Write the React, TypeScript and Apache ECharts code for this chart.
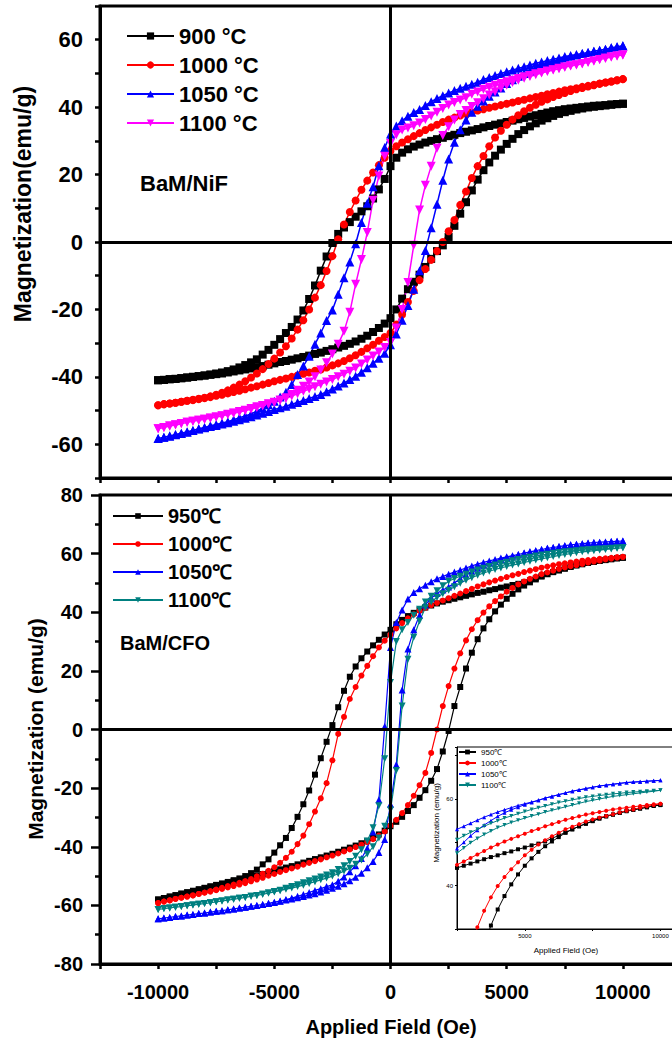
import React, { useEffect, useRef } from "react";
import * as echarts from "echarts";

const FONT = "'Liberation Sans', Arial, sans-serif";

// Applied field (Oe), shared by every branch
const field = [
  -10000, -9750, -9500, -9250, -9000, -8750, -8500, -8250, -8000,
  -7750, -7500, -7250, -7000, -6750, -6500, -6250, -6000, -5750,
  -5500, -5250, -5000, -4750, -4500, -4250, -4000, -3750, -3500,
  -3250, -3000, -2750, -2500, -2250, -2000, -1750, -1500, -1250,
  -1000, -750, -500, -250, 0, 250, 500, 750, 1000,
  1250, 1500, 1750, 2000, 2250, 2500, 2750, 3000, 3250,
  3500, 3750, 4000, 4250, 4500, 4750, 5000, 5250, 5500,
  5750, 6000, 6250, 6500, 6750, 7000, 7250, 7500, 7750,
  8000, 8250, 8500, 8750, 9000, 9250, 9500, 9750, 10000,
];

// ---- BaM/NiF (top) : ascending branch (Asc) and descending branch (Desc), both listed along field ----
const nif900Asc = [
  -41.0, -40.9, -40.7, -40.6, -40.4, -40.2, -40.0, -39.8, -39.6,
  -39.4, -39.2, -39.0, -38.7, -38.4, -38.1, -37.8, -37.5, -37.1,
  -36.8, -36.4, -36.0, -35.6, -35.3, -34.9, -34.5, -34.1, -33.7,
  -33.2, -32.8, -32.3, -31.8, -31.3, -30.8, -30.2, -29.5, -28.7,
  -27.8, -26.7, -25.5, -24.2, -22.6, -20.0, -16.8, -14.0, -11.8,
  -9.7, -7.4, -5.0, -2.7, -1.0, 1.5, 4.8, 8.4, 11.8,
  15.3, 18.5, 21.3, 23.6, 25.6, 27.4, 29.1, 30.6, 32.0,
  33.2, 34.3, 35.2, 36.0, 36.7, 37.4, 38.0, 38.5, 38.9,
  39.3, 39.6, 39.9, 40.1, 40.3, 40.5, 40.7, 40.9, 41.0,
];
const nif900Desc = [
  -41.0, -40.9, -40.7, -40.6, -40.4, -40.2, -40.0, -39.8, -39.6,
  -39.3, -39.0, -38.7, -38.3, -37.8, -37.2, -36.5, -35.7, -34.8,
  -33.4, -32.0, -30.5, -28.8, -27.0, -25.2, -23.0, -20.3, -16.9,
  -12.9, -8.5, -4.3, -0.3, 2.4, 4.3, 5.9, 7.5, 9.1,
  10.6, 12.9, 15.6, 18.7, 22.5, 25.0, 26.5, 27.5, 28.3,
  28.9, 29.5, 30.0, 30.5, 30.9, 31.4, 31.8, 32.3, 32.7,
  33.1, 33.5, 34.0, 34.4, 34.8, 35.2, 35.6, 36.0, 36.4,
  36.8, 37.2, 37.6, 38.0, 38.4, 38.8, 39.1, 39.4, 39.6,
  39.8, 40.0, 40.2, 40.4, 40.5, 40.6, 40.8, 40.9, 41.0,
];
const nif1000Asc = [
  -48.4, -48.1, -47.9, -47.7, -47.4, -47.1, -46.9, -46.6, -46.3,
  -46.0, -45.6, -45.3, -44.9, -44.5, -44.1, -43.7, -43.2, -42.8,
  -42.3, -41.8, -41.3, -40.9, -40.5, -40.0, -39.6, -39.1, -38.7,
  -38.2, -37.8, -37.2, -36.6, -36.0, -35.3, -34.5, -33.6, -32.6,
  -31.5, -30.5, -29.3, -28.2, -27.0, -24.5, -21.5, -17.8, -14.5,
  -11.3, -8.0, -5.3, -2.7, 0.0, 3.2, 6.5, 11.0, 15.0,
  19.0, 22.5, 25.5, 28.4, 31.0, 33.0, 34.8, 36.3, 37.6,
  38.8, 39.8, 40.7, 41.6, 42.3, 43.0, 43.6, 44.2, 44.8,
  45.3, 45.7, 46.1, 46.5, 46.9, 47.3, 47.6, 48.0, 48.3,
];
const nif1000Desc = [
  -48.4, -48.1, -47.9, -47.7, -47.4, -47.1, -46.8, -46.5, -46.2,
  -45.8, -45.3, -44.7, -44.0, -43.2, -42.3, -41.3, -40.2, -39.0,
  -37.7, -36.2, -34.6, -32.8, -30.9, -28.6, -26.0, -23.2, -20.0,
  -16.5, -12.8, -8.6, -4.2, 0.8, 5.2, 8.9, 12.3, 15.5,
  18.2, 20.6, 22.8, 25.0, 27.0, 28.4, 29.5, 30.5, 31.4,
  32.3, 33.2, 34.0, 34.8, 35.6, 36.3, 36.9, 37.5, 38.0,
  38.5, 39.0, 39.4, 39.8, 40.2, 40.6, 41.0, 41.4, 41.8,
  42.2, 42.6, 43.0, 43.4, 43.8, 44.2, 44.6, 45.0, 45.3,
  45.6, 46.0, 46.3, 46.6, 47.0, 47.3, 47.6, 48.0, 48.3,
];
const nif1050Asc = [
  -58.3, -57.9, -57.6, -57.2, -56.8, -56.4, -55.9, -55.5, -55.1,
  -54.7, -54.4, -54.0, -53.6, -53.2, -52.7, -52.3, -51.8, -51.3,
  -50.8, -50.3, -49.7, -49.2, -48.7, -48.1, -47.6, -47.0, -46.4,
  -45.8, -45.2, -44.4, -43.6, -42.7, -41.8, -40.8, -39.8, -38.6,
  -37.3, -36.0, -34.5, -33.0, -30.5, -27.3, -23.2, -18.8, -14.0,
  -8.5, -2.5, 4.2, 11.2, 18.3, 24.6, 29.6, 33.3, 36.2,
  38.5, 40.3, 41.8, 43.2, 44.5, 45.7, 47.0, 48.1, 49.2,
  50.0, 50.8, 51.6, 52.3, 52.9, 53.5, 54.1, 54.6, 55.1,
  55.5, 55.9, 56.2, 56.6, 56.9, 57.2, 57.6, 57.9, 58.2,
];
const nif1050Desc = [
  -58.3, -57.9, -57.5, -57.1, -56.7, -56.3, -55.9, -55.4, -55.0,
  -54.5, -54.1, -53.7, -53.3, -52.7, -52.1, -51.6, -51.0, -50.2,
  -49.3, -48.3, -47.2, -46.0, -44.6, -42.3, -39.3, -36.8, -33.9,
  -30.3, -27.0, -23.3, -20.2, -15.5, -10.6, -5.9, -0.5, 5.8,
  11.5, 16.4, 22.6, 28.0, 32.0, 34.4, 36.0, 37.3, 38.4,
  39.3, 40.5, 41.6, 42.6, 43.4, 44.2, 44.9, 45.6, 46.2,
  46.8, 47.4, 48.2, 48.8, 49.4, 50.0, 50.5, 51.0, 51.5,
  52.0, 52.5, 53.0, 53.4, 53.8, 54.2, 54.6, 55.0, 55.3,
  55.6, 55.9, 56.2, 56.6, 56.9, 57.2, 57.6, 57.9, 58.2,
];
const nif1100Asc = [
  -55.4, -55.0, -54.6, -54.2, -53.8, -53.5, -53.2, -52.9, -52.6,
  -52.3, -51.9, -51.6, -51.2, -50.8, -50.4, -50.0, -49.6, -49.1,
  -48.6, -48.1, -47.6, -47.0, -46.4, -45.7, -45.0, -44.3, -43.6,
  -42.9, -42.2, -41.5, -40.8, -40.0, -39.2, -38.3, -37.4, -36.2,
  -35.0, -33.8, -32.6, -31.3, -29.8, -25.5, -20.0, -12.0, -1.0,
  9.5, 16.8, 22.5, 27.8, 31.6, 34.2, 36.2, 37.8, 39.0,
  40.2, 41.3, 42.5, 43.6, 44.6, 45.6, 46.5, 47.3, 48.0,
  48.6, 49.1, 49.6, 50.1, 50.6, 51.0, 51.4, 51.8, 52.2,
  52.5, 52.9, 53.3, 53.7, 54.1, 54.5, 54.9, 55.2, 55.5,
];
const nif1100Desc = [
  -55.4, -55.0, -54.6, -54.3, -53.9, -53.5, -53.2, -52.9, -52.6,
  -52.2, -51.9, -51.5, -51.1, -50.7, -50.3, -49.9, -49.4, -48.9,
  -48.5, -48.0, -47.5, -46.9, -46.2, -45.2, -44.0, -42.8, -41.5,
  -40.0, -38.0, -35.8, -33.2, -30.3, -26.5, -20.8, -12.5, -5.2,
  2.8, 12.4, 19.6, 25.4, 29.2, 31.8, 33.2, 33.8, 34.5,
  35.3, 36.3, 37.4, 38.5, 39.6, 40.6, 41.4, 42.1, 42.8,
  43.8, 44.5, 45.3, 45.9, 46.5, 47.0, 47.5, 48.0, 48.5,
  49.0, 49.4, 49.9, 50.3, 50.7, 51.1, 51.5, 51.9, 52.3,
  52.6, 52.9, 53.3, 53.7, 54.1, 54.5, 54.9, 55.2, 55.5,
];

// ---- BaM/CFO (bottom and inset) ----
const cfo950Asc = [
  -58.0, -57.5, -57.0, -56.6, -56.0, -55.6, -55.2, -54.6, -54.1,
  -53.6, -53.1, -52.7, -52.2, -51.7, -51.2, -50.7, -50.2, -49.8,
  -49.3, -48.8, -48.2, -47.7, -47.1, -46.6, -46.0, -45.4, -44.8,
  -44.2, -43.6, -43.0, -42.4, -41.7, -41.0, -40.3, -39.6, -38.8,
  -38.0, -37.0, -35.8, -34.5, -33.0, -31.5, -29.8, -27.8, -25.8,
  -23.3, -20.7, -17.5, -13.5, -7.5, -0.5, 8.0, 14.5, 20.8,
  26.2, 30.8, 34.5, 37.6, 40.3, 42.6, 44.6, 46.3, 47.8,
  49.1, 50.2, 51.2, 52.2, 53.0, 53.7, 54.3, 54.9, 55.5,
  56.0, 56.4, 56.8, 57.2, 57.5, 57.8, 58.1, 58.4, 58.6,
];
const cfo950Desc = [
  -58.0, -57.5, -57.0, -56.5, -56.0, -55.5, -55.0, -54.5, -54.0,
  -53.5, -53.0, -52.5, -52.0, -51.4, -50.8, -50.0, -49.0, -47.8,
  -46.0, -44.3, -42.0, -39.5, -37.0, -33.6, -29.8, -25.5, -20.8,
  -15.4, -9.8, -4.2, 1.5, 7.6, 13.2, 18.0, 21.5, 24.3,
  26.6, 28.7, 30.6, 32.4, 34.0, 35.9, 37.4, 38.7, 39.8,
  40.8, 41.6, 42.3, 43.0, 43.6, 44.1, 44.6, 45.1, 45.6,
  46.1, 46.6, 47.0, 47.5, 47.9, 48.4, 48.8, 49.3, 49.7,
  50.2, 50.9, 51.6, 52.3, 53.0, 53.7, 54.3, 54.9, 55.5,
  56.0, 56.4, 56.8, 57.2, 57.5, 57.8, 58.1, 58.4, 58.6,
];
const cfo1000Asc = [
  -59.2, -58.7, -58.3, -57.8, -57.4, -57.0, -56.6, -56.1, -55.7,
  -55.3, -54.8, -54.4, -53.9, -53.4, -52.9, -52.4, -51.8, -51.2,
  -50.6, -49.9, -49.3, -48.6, -48.0, -47.4, -46.8, -46.1, -45.5,
  -44.9, -44.3, -43.6, -43.0, -42.3, -41.6, -40.9, -40.1, -39.3,
  -38.4, -37.4, -36.2, -34.8, -32.8, -30.8, -28.5, -25.8, -22.6,
  -19.0, -14.8, -8.0, 0.0, 8.0, 14.8, 20.8, 26.0, 30.4,
  34.2, 37.3, 39.9, 42.0, 43.8, 45.4, 47.0, 48.3, 49.5,
  50.5, 51.4, 52.2, 53.0, 53.6, 54.2, 54.8, 55.3, 55.7,
  56.1, 56.5, 56.9, 57.3, 57.6, 58.0, 58.3, 58.6, 58.9,
];
const cfo1000Desc = [
  -59.2, -58.7, -58.3, -57.8, -57.4, -57.0, -56.6, -56.1, -55.6,
  -55.1, -54.6, -54.0, -53.4, -52.9, -52.3, -51.7, -51.0, -50.1,
  -49.2, -48.2, -47.0, -45.5, -43.8, -41.7, -39.1, -36.2, -32.3,
  -28.0, -23.5, -18.3, -10.5, -1.5, 4.3, 10.4, 14.5, 18.4,
  21.7, 25.0, 28.0, 30.3, 32.4, 34.5, 36.3, 37.9, 39.3,
  40.5, 41.5, 42.4, 43.2, 44.0, 44.8, 45.6, 46.4, 47.2,
  48.0, 48.8, 49.5, 50.2, 50.8, 51.4, 52.0, 52.6, 53.1,
  53.7, 54.2, 54.7, 55.2, 55.6, 56.0, 56.4, 56.7, 57.0,
  57.3, 57.6, 57.8, 58.0, 58.2, 58.4, 58.6, 58.8, 58.9,
];
const cfo1050Asc = [
  -64.6, -64.3, -64.1, -63.8, -63.6, -63.3, -63.1, -62.8, -62.6,
  -62.3, -62.0, -61.8, -61.5, -61.2, -60.9, -60.6, -60.3, -60.0,
  -59.7, -59.4, -59.0, -58.6, -58.2, -57.8, -57.4, -57.0, -56.5,
  -56.0, -55.4, -54.8, -54.2, -53.5, -52.6, -51.6, -50.4, -49.0,
  -47.2, -45.0, -42.0, -37.5, -25.5, -12.0, 13.5, 27.5, 34.0,
  39.0, 42.5, 44.8, 46.5, 47.6, 48.6, 50.0, 51.5, 52.8,
  54.0, 55.0, 56.0, 56.8, 57.5, 58.1, 58.7, 59.2, 59.7,
  60.2, 60.6, 61.0, 61.4, 61.8, 62.1, 62.4, 62.7, 63.0,
  63.2, 63.4, 63.6, 63.8, 63.9, 64.0, 64.1, 64.2, 64.3,
];
const cfo1050Desc = [
  -64.6, -64.3, -64.1, -63.8, -63.6, -63.3, -63.1, -62.8, -62.6,
  -62.3, -62.0, -61.8, -61.5, -61.2, -60.9, -60.6, -60.3, -60.0,
  -59.7, -59.3, -58.9, -58.5, -58.0, -57.5, -56.9, -56.3, -55.6,
  -54.9, -54.3, -53.6, -53.0, -51.8, -50.3, -48.5, -46.5, -44.0,
  -40.5, -35.0, -24.0, 1.0, 28.0, 36.5, 40.8, 44.5, 46.7,
  48.0, 49.2, 50.4, 51.4, 52.2, 53.0, 53.7, 54.4, 55.1,
  55.8, 56.4, 57.0, 57.5, 58.0, 58.5, 58.9, 59.3, 59.7,
  60.2, 60.6, 61.0, 61.4, 61.8, 62.1, 62.4, 62.7, 63.0,
  63.2, 63.4, 63.6, 63.8, 63.9, 64.0, 64.1, 64.2, 64.3,
];
const cfo1100Asc = [
  -61.4, -61.1, -60.9, -60.6, -60.4, -60.1, -59.9, -59.6, -59.4,
  -59.1, -58.8, -58.5, -58.2, -57.9, -57.6, -57.3, -56.9, -56.6,
  -56.2, -55.8, -55.4, -55.0, -54.5, -54.1, -53.6, -53.1, -52.5,
  -51.9, -51.3, -50.7, -50.0, -49.2, -48.3, -47.3, -46.0, -44.5,
  -42.5, -40.0, -37.0, -33.0, -27.5, -14.0, 8.0, 24.0, 31.5,
  37.0, 41.5, 43.5, 45.0, 46.3, 47.5, 48.7, 49.9, 50.9,
  51.8, 52.6, 53.4, 54.0, 54.6, 55.1, 55.6, 56.1, 56.5,
  57.0, 57.4, 57.8, 58.2, 58.6, 59.0, 59.4, 59.7, 60.0,
  60.3, 60.6, 60.8, 61.0, 61.2, 61.4, 61.6, 61.8, 62.0,
];
const cfo1100Desc = [
  -61.4, -61.1, -60.9, -60.6, -60.4, -60.1, -59.9, -59.6, -59.4,
  -59.1, -58.8, -58.5, -58.2, -57.9, -57.6, -57.3, -56.9, -56.6,
  -56.2, -55.8, -55.3, -54.8, -54.2, -53.6, -53.0, -52.3, -51.6,
  -51.0, -50.3, -49.6, -48.9, -47.8, -46.5, -45.0, -43.2, -41.0,
  -38.0, -33.5, -26.0, -10.0, 16.0, 30.0, 34.0, 36.5, 39.0,
  41.0, 43.5, 45.5, 47.3, 49.0, 50.6, 51.5, 52.3, 53.0,
  53.7, 54.4, 55.0, 55.6, 56.1, 56.6, 57.1, 57.6, 58.0,
  58.4, 58.8, 59.2, 59.5, 59.8, 60.1, 60.4, 60.6, 60.8,
  61.0, 61.2, 61.3, 61.5, 61.6, 61.7, 61.8, 61.9, 62.0,
];

const topNames = ["900 °C", "1000 °C", "1050 °C", "1100 °C"];
const bottomNames = ["950℃", "1000℃", "1050℃", "1100℃"];
const topColors = ["#000000", "#FF0000", "#0000FF", "#FF00FF"];
const bottomColors = ["#000000", "#FF0000", "#0000FF", "#008080"];
const symbols = ["rect", "circle", "triangle", "triangle"];
const symbolRotations = [0, 0, 0, 180];

const topTicks = [-60, -40, -20, 0, 20, 40, 60];

function loop(asc: number[], desc: number[]) {
  const up = field.map((h, i) => [h, asc[i]]);
  const down = field.map((h, i) => [h, desc[i]]).reverse();
  return up.concat(down);
}

const topLoops = [
  loop(nif900Asc, nif900Desc),
  loop(nif1000Asc, nif1000Desc),
  loop(nif1050Asc, nif1050Desc),
  loop(nif1100Asc, nif1100Desc),
];
const bottomLoops = [
  loop(cfo950Asc, cfo950Desc),
  loop(cfo1000Asc, cfo1000Desc),
  loop(cfo1050Asc, cfo1050Desc),
  loop(cfo1100Asc, cfo1100Desc),
];

const bold = (size: number) => ({
  fontSize: size,
  fontWeight: "bold" as const,
  fontFamily: FONT,
  color: "#000",
});

function zeroLines(xi: number, yi: number) {
  return {
    type: "line",
    xAxisIndex: xi,
    yAxisIndex: yi,
    data: [],
    z: 1,
    silent: true,
    markLine: {
      silent: true,
      symbol: ["none", "none"],
      label: { show: false },
      lineStyle: { color: "#000", width: 3, type: "solid" },
      data: [{ xAxis: 0 }, { yAxis: 0 }],
    },
  };
}

function buildOption() {
  const series: any[] = [zeroLines(0, 0), zeroLines(1, 2)];
  topLoops.forEach((d, i) => {
    series.push({
      name: topNames[i],
      type: "line",
      xAxisIndex: 0,
      yAxisIndex: 0,
      data: d,
      z: 3,
      showAllSymbol: true,
      symbol: symbols[i],
      symbolRotate: symbolRotations[i],
      symbolSize: i >= 2 ? 9 : 8,
      color: topColors[i],
      lineStyle: { width: 1.5, color: topColors[i] },
      itemStyle: { color: topColors[i] },
    });
  });
  bottomLoops.forEach((d, i) => {
    series.push({
      name: bottomNames[i],
      type: "line",
      xAxisIndex: 1,
      yAxisIndex: 2,
      data: d,
      z: 3,
      showAllSymbol: true,
      symbol: symbols[i],
      symbolRotate: symbolRotations[i],
      symbolSize: i >= 2 ? 7 : 6,
      color: bottomColors[i],
      lineStyle: { width: 1.2, color: bottomColors[i] },
      itemStyle: { color: bottomColors[i] },
    });
  });
  bottomLoops.forEach((d, i) => {
    series.push({
      name: bottomNames[i],
      type: "line",
      xAxisIndex: 2,
      yAxisIndex: 3,
      data: d,
      z: 6,
      clip: true,
      showAllSymbol: true,
      symbol: symbols[i],
      symbolRotate: symbolRotations[i],
      symbolSize: 4,
      color: bottomColors[i],
      lineStyle: { width: 1, color: bottomColors[i] },
      itemStyle: { color: bottomColors[i] },
    });
  });

  const xBase = {
    type: "value",
    min: -12500,
    max: 12500,
    interval: 2500,
    splitLine: { show: false },
    axisLine: { show: true, onZero: false, lineStyle: { color: "#000", width: 3 } },
    axisTick: { show: true, inside: false, length: 5, lineStyle: { color: "#000", width: 2.5 } },
  };

  return {
    animation: false,
    backgroundColor: "#fff",
    grid: [
      { left: 100, top: 6, width: 581, height: 472, show: true, borderColor: "#000", borderWidth: 3, backgroundColor: "transparent" },
      { left: 100, top: 495, width: 581, height: 469, show: true, borderColor: "#000", borderWidth: 3, backgroundColor: "transparent" },
      { left: 457, top: 747, width: 217, height: 182, show: true, borderColor: "#000", borderWidth: 1, backgroundColor: "#fff", z: 5 },
    ],
    xAxis: [
      { ...xBase, gridIndex: 0, axisLabel: { show: false } },
      {
        ...xBase,
        gridIndex: 1,
        axisLabel: {
          show: true,
          margin: 18,
          ...bold(20),
          formatter: (v: number) => (v % 5000 === 0 ? String(v) : ""),
        },
      },
      {
        type: "value",
        gridIndex: 2,
        min: 2500,
        max: 10500,
        interval: 2500,
        z: 6,
        splitLine: { show: false },
        axisLine: { show: true, onZero: false, lineStyle: { color: "#000", width: 1 } },
        axisTick: { show: true, length: 2, lineStyle: { color: "#000", width: 1 } },
        axisLabel: {
          show: true,
          margin: 4,
          fontSize: 6,
          fontFamily: FONT,
          color: "#000",
          formatter: (v: number) => (v % 5000 === 0 ? String(v) : ""),
        },
      },
    ],
    yAxis: [
      {
        type: "value",
        gridIndex: 0,
        min: -70,
        max: 70,
        interval: 10,
        splitLine: { show: false },
        axisLine: { show: true, onZero: false, lineStyle: { color: "#000", width: 3 } },
        axisTick: { show: true, inside: false, length: 5, lineStyle: { color: "#000", width: 2.5 } },
        axisLabel: {
          show: true,
          margin: 17,
          ...bold(22),
          formatter: (v: number) => (v % 20 === 0 ? String(v) : ""),
        },
      },
      {
        type: "value",
        gridIndex: 0,
        min: -70,
        max: 70,
        interval: 10,
        splitLine: { show: false },
        axisLine: { show: false, onZero: false },
        axisTick: { show: true, inside: false, length: 9, customValues: topTicks, lineStyle: { color: "#000", width: 2.5 } },
        axisLabel: { show: false },
      },
      {
        type: "value",
        gridIndex: 1,
        min: -80,
        max: 80,
        interval: 20,
        splitLine: { show: false },
        axisLine: { show: true, onZero: false, lineStyle: { color: "#000", width: 3 } },
        axisTick: { show: true, inside: false, length: 9, lineStyle: { color: "#000", width: 2.5 } },
        minorTick: { show: true, splitNumber: 2, length: 5, lineStyle: { color: "#000", width: 2.5 } },
        axisLabel: { show: true, margin: 17, ...bold(20) },
      },
      {
        type: "value",
        gridIndex: 2,
        min: 30,
        max: 72,
        interval: 10,
        z: 6,
        splitLine: { show: false },
        axisLine: { show: true, onZero: false, lineStyle: { color: "#000", width: 1 } },
        axisTick: { show: true, length: 2, lineStyle: { color: "#000", width: 1 } },
        axisLabel: {
          show: true,
          margin: 4,
          fontSize: 6,
          fontFamily: FONT,
          color: "#000",
          formatter: (v: number) => (v % 20 === 0 ? String(v) : ""),
        },
      },
    ],
    legend: [
      {
        data: topNames,
        orient: "vertical",
        left: 121,
        top: 20,
        itemWidth: 47,
        itemHeight: 9,
        itemGap: 7,
        selectedMode: false,
        textStyle: { ...bold(22), lineHeight: 22 },
      },
      {
        data: bottomNames,
        orient: "vertical",
        left: 107,
        top: 501,
        itemWidth: 50,
        itemHeight: 7,
        itemGap: 8,
        selectedMode: false,
        textStyle: { ...bold(20), lineHeight: 20 },
      },
      {
        data: bottomNames,
        orient: "vertical",
        left: 458,
        top: 748,
        itemWidth: 17,
        itemHeight: 6,
        itemGap: 3,
        padding: 0,
        z: 7,
        selectedMode: false,
        textStyle: { fontSize: 8, fontFamily: FONT, color: "#000", lineHeight: 8 },
      },
    ],
    graphic: [
      { type: "text", x: 140, y: 183, z: 10, style: { text: "BaM/NiF", fontSize: 22, fontWeight: "bold", fontFamily: FONT, fill: "#000", verticalAlign: "middle" } },
      { type: "text", x: 120, y: 643, z: 10, style: { text: "BaM/CFO", fontSize: 20, fontWeight: "bold", fontFamily: FONT, fill: "#000", verticalAlign: "middle" } },
      { type: "text", x: 23, y: 204, rotation: Math.PI / 2, z: 10, style: { text: "Magnetization(emu/g)", fontSize: 23, fontWeight: "bold", fontFamily: FONT, fill: "#000", align: "center", verticalAlign: "middle" } },
      { type: "text", x: 35, y: 729, rotation: Math.PI / 2, z: 10, style: { text: "Magnetization (emu/g)", fontSize: 21, fontWeight: "bold", fontFamily: FONT, fill: "#000", align: "center", verticalAlign: "middle" } },
      { type: "text", x: 391, y: 1027, z: 10, style: { text: "Applied Field (Oe)", fontSize: 20, fontWeight: "bold", fontFamily: FONT, fill: "#000", align: "center", verticalAlign: "middle" } },
      { type: "text", x: 436, y: 823, rotation: Math.PI / 2, z: 10, style: { text: "Magnetization (emu/g)", fontSize: 8, fontFamily: FONT, fill: "#000", align: "center", verticalAlign: "middle" } },
      { type: "text", x: 566, y: 950, z: 10, style: { text: "Applied Field (Oe)", fontSize: 8, fontFamily: FONT, fill: "#000", align: "center", verticalAlign: "middle" } },
    ],
    series,
  };
}

export default function App() {
  const ref = useRef<HTMLDivElement>(null);
  useEffect(() => {
    if (!ref.current) return;
    const chart = echarts.init(ref.current, null, { renderer: "svg" });
    chart.setOption(buildOption() as any);
    return () => chart.dispose();
  }, []);
  return (
    <div style={{ position: "fixed", left: 0, top: 0, width: 672, height: 1043, overflow: "hidden", background: "#fff" }}>
      <div ref={ref} style={{ width: 700, height: 1043 }} />
    </div>
  );
}
